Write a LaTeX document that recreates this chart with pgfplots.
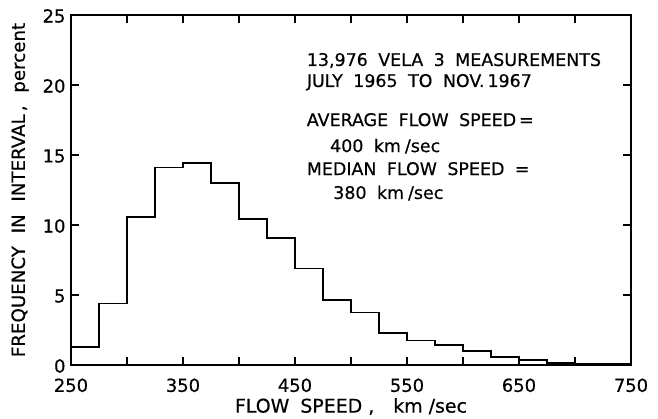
\documentclass[border=0pt]{standalone}
\usepackage{pgfplots}
\pgfplotsset{compat=1.18}
\usepackage{fontspec}
% regular DejaVu strokes, thickened slightly for the bold series
\setmainfont{DejaVu Sans}[BoldFont={DejaVu Sans}, BoldFeatures={FakeBold=0.5}]

% wide word gap of the lettering
\newcommand\gap{\hspace{0.6em}}
\newcommand\notefont{\fontsize{17.5}{20}\selectfont\bfseries}
\newcommand\labfont{\fontsize{18}{20}\selectfont\bfseries}

\begin{document}
\begin{tikzpicture}
\begin{axis}[
  name=ax,
  scale only axis,
  width=560bp, height=350bp,
  xmin=250, xmax=750, ymin=0, ymax=25,
  xtick={250,300,...,750},
  xticklabels={250,,350,,450,,550,,650,,750},
  ytick={0,5,...,25},
  tick align=inside,
  major tick length=8bp,
  tick style={line width=1.1bp, black},
  axis line style={line width=1.3bp},
  /pgf/number format/assume math mode=true,
  ticklabel style={font=\labfont},
  xticklabel style={yshift=-10bp},
  yticklabel style={xshift=-2bp, yshift=-1bp},
  xlabel={FLOW\hspace{11bp}SPEED\hspace{6bp},\hspace{19bp}km\hspace{6bp}/sec},
  ylabel={FREQUENCY\hspace{0.7em}IN\hspace{0.7em}INTERVAL\,,\hspace{0.7em}percent},
  xlabel style={font=\fontsize{19}{22}\selectfont\bfseries,
    at={(axis description cs:0.5,-0.136)}, anchor=base},
  ylabel style={font=\fontsize{18.3}{22}\selectfont\bfseries,
    at={(axis description cs:-0.091,0.5)}, anchor=center},
]
% velocity distribution, 25 km/sec bins
\addplot[const plot, line width=1.8bp, black] coordinates {
  (250,1.3) (275,4.4) (300,10.55) (325,14.1) (350,14.45) (375,13.0)
  (400,10.45) (425,9.1) (450,6.9) (475,4.65) (500,3.75) (525,2.3)
  (550,1.75) (575,1.45) (600,1.0) (625,0.55) (650,0.35) (675,0.15)
  (700,0.08) (725,0.05) (750,0.05)
};
\node[anchor=base west, font=\notefont, inner sep=0pt] at (axis cs:460.4,21.36)
  {13,976\gap VELA\gap 3\gap MEASUREMENTS};
\node[anchor=base west, font=\notefont, inner sep=0pt] at (axis cs:460.4,19.86)
  {JULY\gap 1965\gap TO\gap NOV.\,1967};
\node[anchor=base west, font=\notefont, inner sep=0pt] at (axis cs:460.4,17.07)
  {AVERAGE\gap FLOW\gap SPEED\,=};
\node[anchor=base west, font=\notefont, inner sep=0pt] at (axis cs:481.2,15.21)
  {400\gap km\hspace{4bp}/sec};
\node[anchor=base west, font=\notefont, inner sep=0pt] at (axis cs:460.4,13.57)
  {MEDIAN\gap FLOW\gap SPEED\gap =};
\node[anchor=base west, font=\notefont, inner sep=0pt] at (axis cs:484,11.86)
  {380\gap km\hspace{4bp}/sec};
\end{axis}
\pgfresetboundingbox
\path ([xshift=-71bp,yshift=-54bp]ax.south west) rectangle ([xshift=27bp,yshift=15bp]ax.north east);
\end{tikzpicture}
\end{document}
